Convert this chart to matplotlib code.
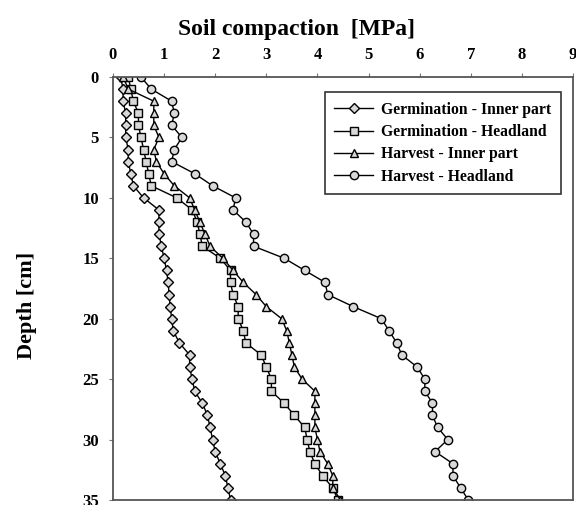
import numpy as np
import matplotlib
matplotlib.use("Agg")
import matplotlib.pyplot as plt

plt.rcParams['font.family'] = ['Liberation Serif', 'DejaVu Serif']
plt.rcParams['font.weight'] = 'bold'

# depth in cm, one reading per cm
depth = list(range(0, 36))

germ_inner = [0.15, 0.2, 0.2, 0.25, 0.25, 0.25, 0.3, 0.3, 0.35, 0.4,
              0.6, 0.9, 0.9, 0.9, 0.95, 1.0, 1.05, 1.08, 1.1, 1.12,
              1.15, 1.18, 1.3, 1.5, 1.5, 1.55, 1.6, 1.75, 1.85, 1.9,
              1.95, 2.0, 2.1, 2.2, 2.25, 2.3]

germ_head = [0.3, 0.35, 0.4, 0.5, 0.5, 0.55, 0.6, 0.65, 0.7, 0.75,
             1.25, 1.55, 1.65, 1.7, 1.75, 2.1, 2.3, 2.3, 2.35, 2.45,
             2.45, 2.55, 2.6, 2.9, 3.0, 3.1, 3.1, 3.35, 3.55, 3.75,
             3.8, 3.85, 3.95, 4.1, 4.3, 4.4]

harv_inner = [0.2, 0.3, 0.8, 0.8, 0.8, 0.9, 0.8, 0.85, 1.0, 1.2,
              1.5, 1.6, 1.7, 1.8, 1.9, 2.15, 2.35, 2.55, 2.8, 3.0,
              3.3, 3.4, 3.45, 3.5, 3.55, 3.7, 3.95, 3.95, 3.95, 3.95,
              4.0, 4.05, 4.2, 4.3, 4.3, 4.45]

harv_head = [0.55, 0.75, 1.15, 1.2, 1.15, 1.35, 1.2, 1.15, 1.6, 1.95,
             2.4, 2.35, 2.6, 2.75, 2.75, 3.35, 3.75, 4.15, 4.2, 4.7,
             5.25, 5.4, 5.55, 5.65, 5.95, 6.1, 6.1, 6.25, 6.25, 6.35,
             6.55, 6.3, 6.65, 6.65, 6.8, 6.95]

fig = plt.figure(figsize=(5.76, 5.05), dpi=100)
ax = fig.add_axes([0.196, 0.01, 0.799, 0.8375])

style = dict(color='black', lw=1.0, markerfacecolor='#d8d8d8',
             markeredgecolor='black', markeredgewidth=1.0)
ax.plot(germ_inner, depth, marker='D', ms=5, label='Germination - Inner part', **style)
ax.plot(germ_head, depth, marker='s', ms=5.5, label='Germination - Headland', **style)
ax.plot(harv_inner, depth, marker='^', ms=6, label='Harvest - Inner part', **style)
ax.plot(harv_head, depth, marker='o', ms=6, label='Harvest - Headland', **style)

ax.set_xlim(0, 9)
ax.set_ylim(35, 0)
ax.set_xticks(range(0, 10))
ax.set_yticks(range(0, 36, 5))
ax.xaxis.tick_top()
ax.xaxis.set_label_position('top')
ax.tick_params(axis='x', labelsize=12, length=3, pad=7, color='#777777')
ax.tick_params(axis='y', labelsize=12, length=3, pad=7, color='#777777')
for sp in ax.spines.values():
    sp.set_color('#555555')
    sp.set_linewidth(1.3)

ax.set_xlabel('Soil compaction  [MPa]', fontsize=17, fontweight='bold')
ax.xaxis.set_label_coords(0.40, 1.10)
ax.set_ylabel('Depth [cm]', fontsize=16, fontweight='bold')
ax.yaxis.set_label_coords(-0.165, 0.46)

leg = ax.legend(loc='upper right', bbox_to_anchor=(0.99, 0.982), fontsize=11.3,
                frameon=True, fancybox=False, edgecolor='black',
                handlelength=2.5, labelspacing=0.4, borderpad=0.6,
                handletextpad=0.5)
leg.get_frame().set_linewidth(1.2)

fig.savefig('out.png', dpi=100)
